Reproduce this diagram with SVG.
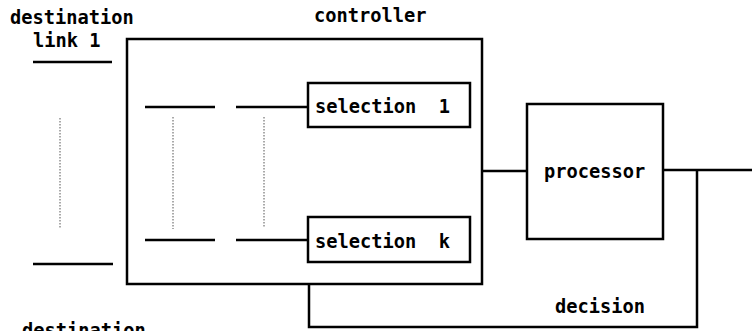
<svg xmlns="http://www.w3.org/2000/svg" width="752" height="331" viewBox="0 0 752 331">
<style>
text{font-family:"DejaVu Sans Mono","Liberation Mono",monospace;font-size:18.7px;font-weight:bold;fill:#000;white-space:pre}
.box{fill:none;stroke:#000;stroke-width:2.5}
.ln{fill:none;stroke:#000;stroke-width:2.5}
.dot{fill:none;stroke:#555;stroke-width:1;stroke-dasharray:1.5 1.5}
</style>
<rect width="752" height="331" fill="#fff"/>
<g id="labels">
<text x="10" y="24">destination</text>
<text x="33" y="47">link 1</text>
<text x="22" y="337">destination</text>
<text x="314" y="22">controller</text>
<text x="555" y="313">decision</text>
</g>
<g id="controller"><rect class="box" x="127" y="39" width="355" height="245"/></g>
<g id="selection1"><rect class="box" x="308" y="83" width="162" height="44"/><text x="315" y="113" xml:space="preserve">selection  1</text></g>
<g id="selectionk"><rect class="box" x="308" y="217" width="162" height="45"/><text x="315" y="248" xml:space="preserve">selection  k</text></g>
<g id="processor"><rect class="box" x="527" y="104" width="136" height="135"/><text x="544" y="178">processor</text></g>
<g id="connectors">
<line class="ln" x1="33" y1="62" x2="112" y2="62"/>
<line class="ln" x1="33" y1="264" x2="113" y2="264"/>
<line class="dot" x1="60" y1="118" x2="60" y2="229"/>
<line class="ln" x1="145" y1="107" x2="215" y2="107"/>
<line class="ln" x1="236" y1="107" x2="308" y2="107"/>
<line class="ln" x1="145" y1="240" x2="215" y2="240"/>
<line class="ln" x1="236" y1="240" x2="308" y2="240"/>
<line class="dot" x1="173" y1="117" x2="173" y2="229"/>
<line class="dot" x1="264" y1="117" x2="264" y2="228"/>
<line class="ln" x1="482" y1="171" x2="527" y2="171"/>
<line class="ln" x1="663" y1="170" x2="752" y2="170"/>
<polyline class="ln" points="697,170 697,327 309,327 309,284"/>
</g>
</svg>
